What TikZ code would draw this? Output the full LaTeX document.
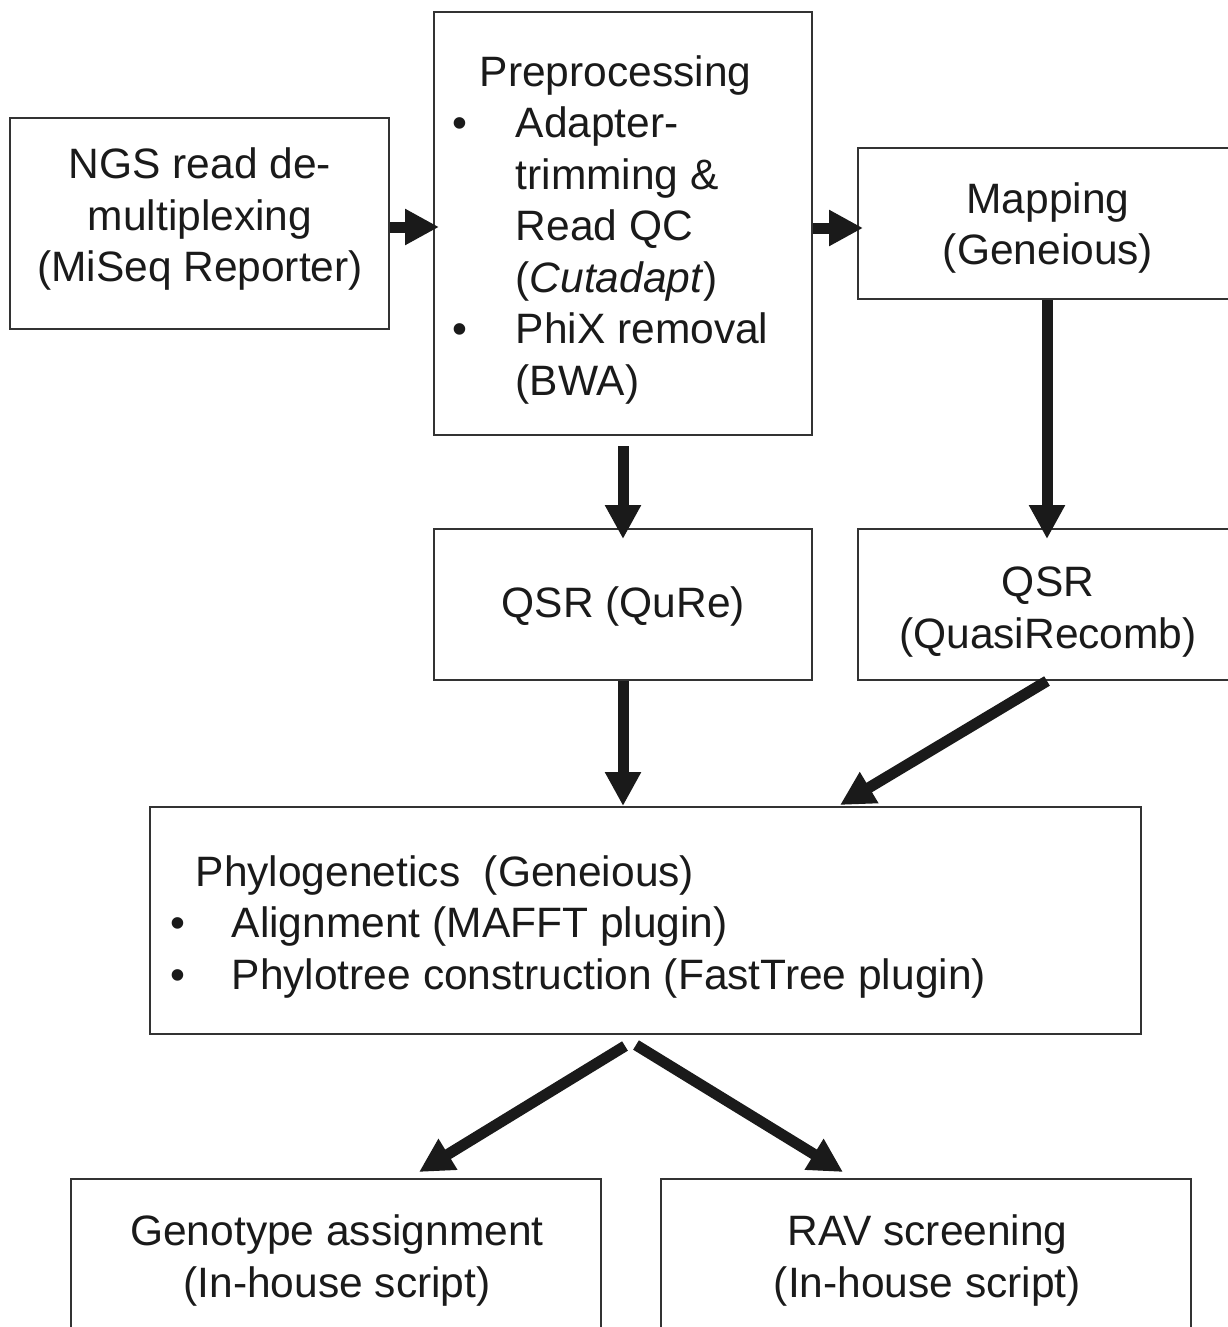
\documentclass[tikz,border=0pt]{standalone}
\usepackage{fontspec}
\setmainfont{Liberation Sans}
\usetikzlibrary{arrows.meta}
\definecolor{boxline}{HTML}{333333}
\definecolor{ink}{HTML}{1A1A1A}
\begin{document}
\begin{tikzpicture}[x=1pt,y=-1pt,
  box/.style={draw=boxline, line width=2pt, rectangle, inner sep=0pt, anchor=center},
  txt/.style={inner sep=0pt, text=ink, font=\fontsize{42.5}{51.5}\selectfont},
  arr/.style={draw=ink, line width=11pt, -{Triangle[length=34pt,width=34pt]}}]
\useasboundingbox[fill=white] (0,0) rectangle (1227,1327);
% boxes
\node[box, minimum width=379pt, minimum height=211pt] (ngs) at (199.5,223.5) {};
\node[box, minimum width=378pt, minimum height=423pt] (pre) at (623,223.5) {};
\node[box, minimum width=380pt, minimum height=151pt] (map) at (1048,223.5) {};
\node[box, minimum width=378pt, minimum height=151pt] (qure) at (623,604.5) {};
\node[box, minimum width=380pt, minimum height=151pt] (qrec) at (1048,604.5) {};
\node[box, minimum width=991pt, minimum height=227pt] (phy) at (645.5,920.5) {};
\node[box, minimum width=530pt, minimum height=160pt] (geno) at (336,1259) {};
\node[box, minimum width=530pt, minimum height=160pt] (rav) at (926,1259) {};
% texts
\node[txt, align=center] (ngst) at (200,219.5) {NGS read de-\\multiplexing\\(MiSeq Reporter)};
\node[txt, align=left, anchor=west] (pret) at (452.5,229.5) {\hspace*{27pt}Preprocessing\\
\makebox[63pt][l]{•}Adapter-\\
\hspace*{63pt}trimming \&\\
\hspace*{63pt}Read QC\\
\hspace*{63pt}(\textit{Cutadapt})\\
\makebox[63pt][l]{•}PhiX removal\\
\hspace*{63pt}(BWA)};
\node[txt, align=center] (mapt) at (1048,228) {Mapping\\(Geneious)};
\node[txt, align=center] (quret) at (623.5,606) {QSR (QuRe)};
\node[txt, align=center] (qrect) at (1048,612) {QSR\\(QuasiRecomb)};
\node[txt, align=left, anchor=west] (phyt) at (170.5,926.5) {\hspace*{25pt}Phylogenetics\ \ (Geneious)\\
\makebox[61pt][l]{•}Alignment (MAFFT plugin)\\
\makebox[61pt][l]{•}Phylotree construction (FastTree plugin)};
\node[txt, align=center] (genot) at (337,1260.5) {Genotype assignment\\(In-house script)};
\node[txt, align=center] (ravt) at (927.5,1260.5) {RAV screening\\(In-house script)};
% arrows
\draw[arr] (ngs.east |- 0,227) -- ([xshift=6pt]pre.west |- 0,227);
\draw[arr] (pre.east |- 0,228) -- ([xshift=6pt]map.west |- 0,228);
\draw[arr] ([yshift=-10pt]pre.south) -- ([yshift=-11pt]qure.north);
\draw[arr] (map.south -| 1047,0) -- ([yshift=-11pt]qrec.north -| 1047,0);
\draw[arr] (qure.south) -- (phy.north -| 623,0);
\draw[arr] (qrec.south -| 1047,0) -- ([yshift=1pt]phy.north -| 840,0);
\draw[arr] ([yshift=-11pt]phy.south -| 625,0) -- ([yshift=6pt]geno.north -| 419,0);
\draw[arr] ([yshift=-10pt]phy.south -| 636,0) -- ([yshift=6pt]rav.north -| 843,0);
\end{tikzpicture}
\end{document}
